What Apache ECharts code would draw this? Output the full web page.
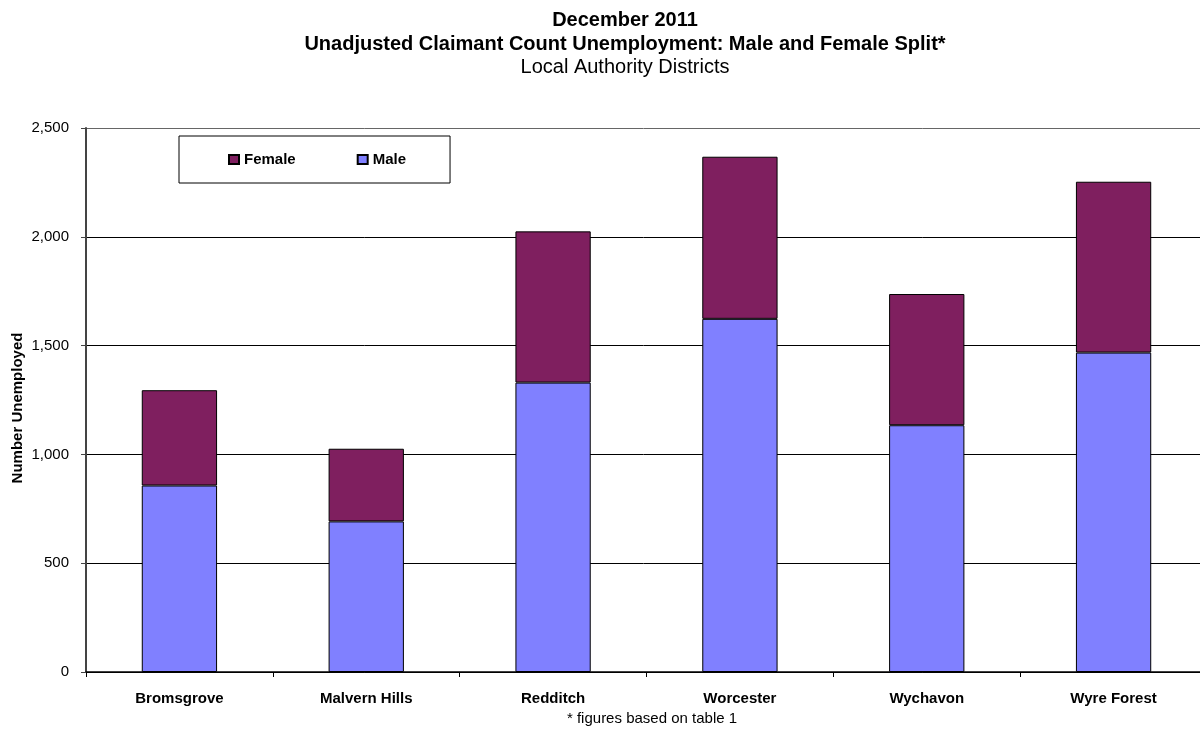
<!DOCTYPE html>
<html>
<head>
<meta charset="utf-8">
<script src="https://cdn.jsdelivr.net/npm/echarts@6/dist/echarts.min.js"></script>
<style>html,body{margin:0;padding:0;background:#fff}#c{width:1200px;height:729px}</style>
</head>
<body>
<div id="c"></div>
<script>
const categories = ['Bromsgrove', 'Malvern Hills', 'Redditch', 'Worcester', 'Wychavon', 'Wyre Forest'];
const male = [857, 692, 1330, 1623, 1134, 1468];
const female = [438, 334, 695, 745, 603, 785];
const yTicks = [0, 500, 1000, 1500, 2000, 2500];

const chart = echarts.init(document.getElementById('c'));
const font = 'Liberation Sans, Arial, sans-serif';
chart.setOption({
  animation: false,
  backgroundColor: '#fff',
  textStyle: { fontFamily: font },
  title: [
    { text: 'December 2011', left: 620, top: 5, textAlign: 'center',
      textStyle: { fontFamily: font, fontSize: 20, fontWeight: 'bold', color: '#000' } },
    { text: 'Unadjusted Claimant Count Unemployment: Male and Female Split*', left: 620, top: 29, textAlign: 'center',
      textStyle: { fontFamily: font, fontSize: 20, fontWeight: 'bold', color: '#000' } },
    { text: 'Local Authority Districts', left: 620, top: 52, textAlign: 'center',
      textStyle: { fontFamily: font, fontSize: 20, fontWeight: 'normal', color: '#000' } },
    { text: '* figures based on table 1', left: 647, top: 706, textAlign: 'center',
      textStyle: { fontFamily: font, fontSize: 15, fontWeight: 'normal', color: '#000' } }
  ],
  graphic: [
    { type: 'text', x: 18, y: 408, rotation: Math.PI / 2,
      style: { text: 'Number Unemployed', fontFamily: font, fontSize: 15, fontWeight: 'bold', fill: '#000',
        textAlign: 'center', textVerticalAlign: 'middle' } }
  ],
  legend: {
    data: ['Female', 'Male'],
    left: 179, top: 136,
    padding: [16, 44, 16, 49],
    itemGap: 61,
    itemWidth: 10, itemHeight: 9,
    borderColor: '#000', borderWidth: 1,
    icon: 'rect',
    textStyle: { fontFamily: font, fontSize: 15, fontWeight: 'bold', color: '#000' }
  },
  grid: { left: 86, right: -7, top: 128, bottom: 57, containLabel: false, outerBoundsMode: 'none' },
  xAxis: {
    type: 'category',
    data: categories,
    axisLine: { show: true, lineStyle: { color: '#000', width: 1.5 } },
    axisTick: { show: true, alignWithLabel: false, length: 5, lineStyle: { color: '#000' } },
    axisLabel: { fontFamily: font, fontSize: 15, fontWeight: 'bold', color: '#000', margin: 19 }
  },
  yAxis: {
    type: 'value',
    min: 0, max: 2500, interval: 500,
    axisLine: { show: true, lineStyle: { color: '#444', width: 2 } },
    axisTick: { show: true, length: 5, lineStyle: { color: '#444' } },
    axisLabel: { fontFamily: font, fontSize: 15, color: '#000', margin: 17,
      formatter: v => v.toLocaleString('en-GB') },
    splitLine: { show: true, lineStyle: { color: ['#000', '#000', '#000', '#000', '#000', '#666'], width: 1 } }
  },
  series: [
    { name: 'Male', type: 'bar', stack: 'total', data: male, barWidth: '40.3%',
      itemStyle: { color: '#8080FF', borderColor: '#000', borderWidth: 1 } },
    { name: 'Female', type: 'bar', stack: 'total', data: female, barWidth: '40.3%',
      itemStyle: { color: '#7F1F5F', borderColor: '#000', borderWidth: 1 } }
  ]
});
</script>
</body>
</html>
